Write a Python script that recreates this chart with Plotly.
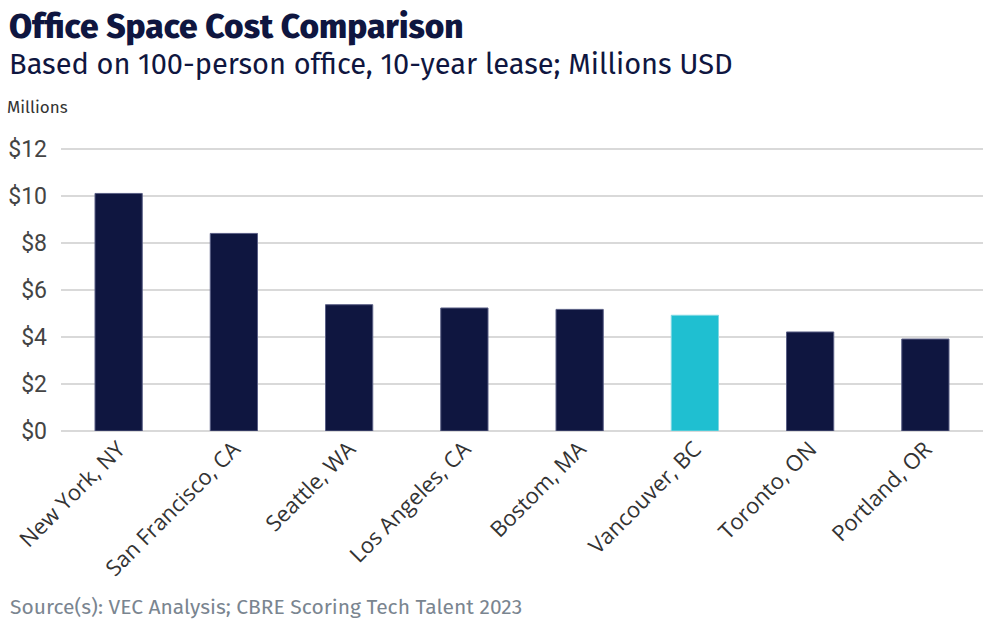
import plotly.graph_objects as go

cities = ["New York, NY", "San Francisco, CA", "Seattle, WA", "Los Angeles, CA",
          "Bostom, MA", "Vancouver, BC", "Toronto, ON", "Portland, OR"]
costs = [10.1, 8.4, 5.37, 5.23, 5.17, 4.92, 4.21, 3.91]
highlight = "Vancouver, BC"
tick_vals = [0, 2, 4, 6, 8, 10, 12]
tick_text = ["$0", "$2", "$4", "$6", "$8", "$10", "$12"]

navy = "#0f1640"
cyan = "#1fbfd1"
colors = [cyan if c == highlight else navy for c in cities]
lines = ["#7fd8e3" if c == highlight else "#5a5f85" for c in cities]

W, H = 995, 625
ML, MR, MT, MB = 61, 12, 137, 194
plot_w = W - ML - MR
plot_h = H - MT - MB

def px_x(px):
    return (px - ML) / plot_w

def px_y(py):
    return (H - MB - py) / plot_h

fig = go.Figure(go.Bar(
    x=cities, y=costs,
    marker=dict(color=colors, line=dict(color=lines, width=1)),
    hoverinfo="x+y",
))

ann_font = "Fira Sans, Open Sans, sans-serif"
fig.update_layout(
    width=W, height=H,
    margin=dict(l=ML, r=MR, t=MT, b=MB, autoexpand=False),
    paper_bgcolor="white", plot_bgcolor="white",
    bargap=0.59,
    showlegend=False,
    font=dict(family=ann_font, color="#333"),
    xaxis=dict(
        tickangle=-45, automargin=False,
        tickfont=dict(family="Open Sans, sans-serif", size=22, color="#333"),
        showgrid=False, showline=False, ticks="",
    ),
    yaxis=dict(
        range=[0, 12.5], automargin=False,
        tickvals=tick_vals, ticktext=tick_text,
        tickfont=dict(family="Roboto, sans-serif", size=23, color="#444"),
        gridcolor="#d9d9d9", gridwidth=2,
        zeroline=True, zerolinecolor="#d9d9d9", zerolinewidth=2,
        ticks="", ticklabelstandoff=13,
    ),
    annotations=[
        dict(text="Office Space Cost Comparison", x=px_x(7), y=px_y(27),
             xref="paper", yref="paper", showarrow=False, xanchor="left", yanchor="middle",
             font=dict(family=ann_font, size=33.5, color=navy, weight=800)),
        dict(text="Based on 100-person office, 10-year lease; Millions USD", x=px_x(7), y=px_y(64),
             xref="paper", yref="paper", showarrow=False, xanchor="left", yanchor="middle",
             font=dict(family=ann_font, size=29, color=navy)),
        dict(text="Millions", x=px_x(5), y=px_y(107),
             xref="paper", yref="paper", showarrow=False, xanchor="left", yanchor="middle",
             font=dict(family=ann_font, size=17, color="#333")),
        dict(text="Source(s): VEC Analysis; CBRE Scoring Tech Talent 2023", x=px_x(8), y=px_y(607),
             xref="paper", yref="paper", showarrow=False, xanchor="left", yanchor="middle",
             font=dict(family=ann_font, size=21, color="#7a8590")),
    ],
)

fig.write_html("out.html", config={"displayModeBar": False},
               post_script="document.body.style.margin='0';")
